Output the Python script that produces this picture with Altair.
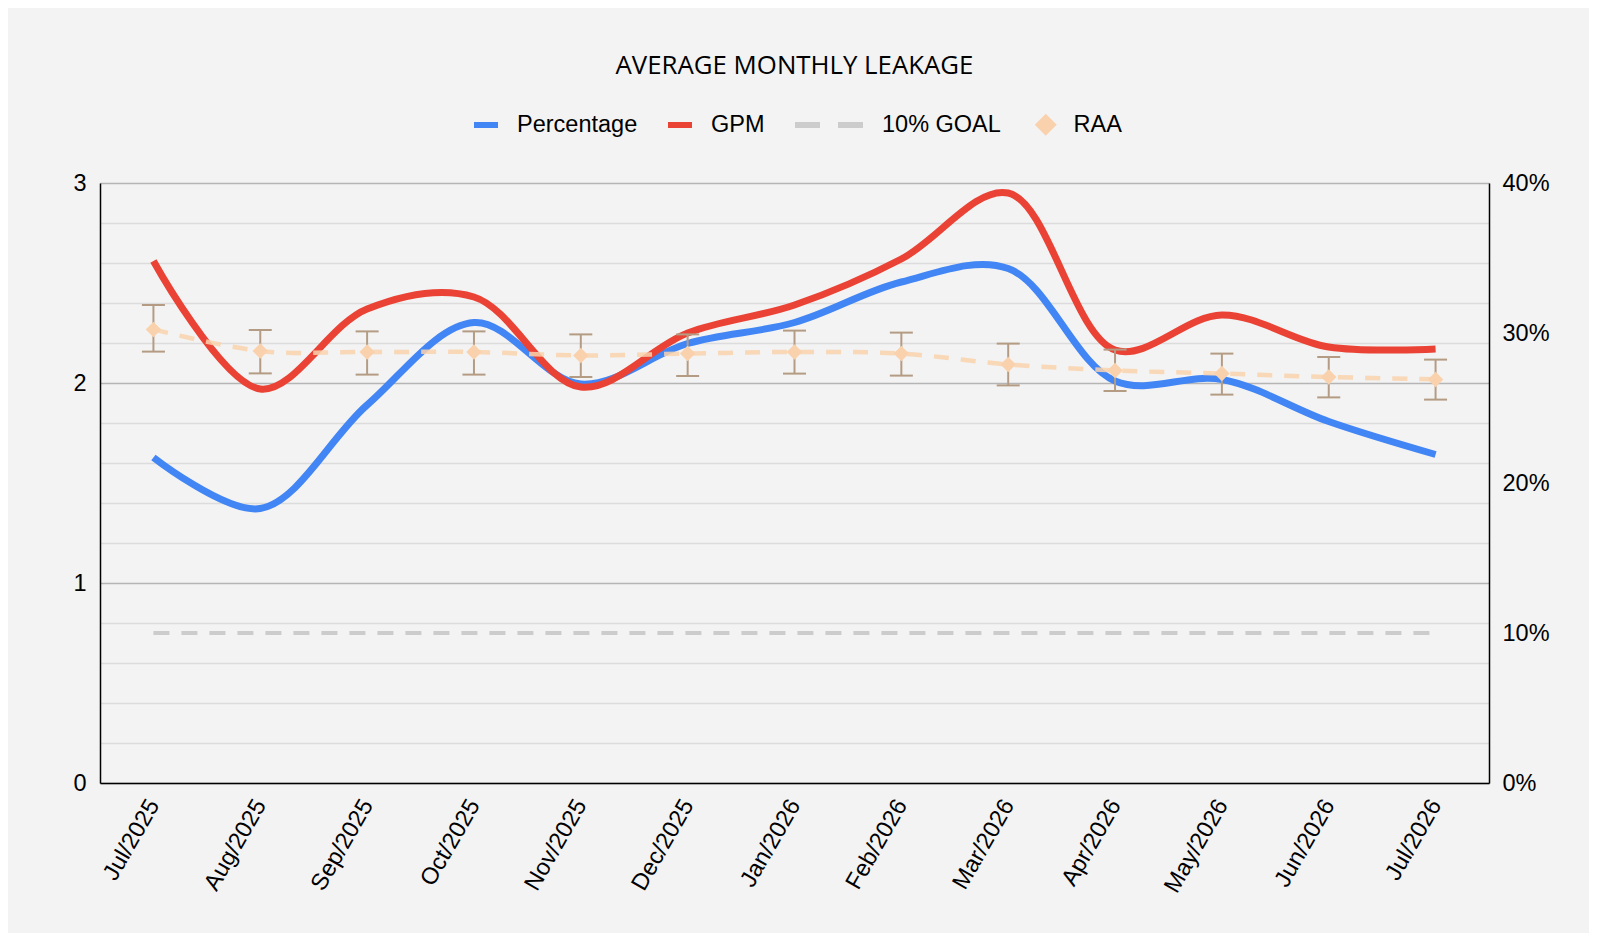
import altair as alt
import pandas as pd

months = ["Jul/2025", "Aug/2025", "Sep/2025", "Oct/2025", "Nov/2025", "Dec/2025",
          "Jan/2026", "Feb/2026", "Mar/2026", "Apr/2026", "May/2026", "Jun/2026", "Jul/2026"]
percentage = [0.217, 0.183, 0.252, 0.307, 0.266, 0.293, 0.307, 0.334, 0.343, 0.268, 0.269, 0.241, 0.219]
gpm = [2.61, 1.97, 2.37, 2.43, 1.98, 2.25, 2.39, 2.62, 2.95, 2.165, 2.34, 2.18, 2.17]
goal = [0.10, 0.10, 0.10, 0.10, 0.10, 0.10, 0.10, 0.10, 0.10, 0.10, 0.10, 0.10, 0.10]
raa = [2.268, 2.16, 2.155, 2.155, 2.138, 2.147, 2.155, 2.147, 2.093, 2.063, 2.047, 2.03, 2.018]
raa_low = [2.157, 2.048, 2.042, 2.042, 2.03, 2.035, 2.047, 2.037, 1.988, 1.96, 1.942, 1.928, 1.917]
raa_high = [2.39, 2.265, 2.258, 2.258, 2.243, 2.243, 2.262, 2.252, 2.197, 2.167, 2.147, 2.13, 2.117]
left_ticks = [0, 0.2, 0.4, 0.6, 0.8, 1, 1.2, 1.4, 1.6, 1.8, 2, 2.2, 2.4, 2.6, 2.8, 3]
right_ticks = [0, 0.1, 0.2, 0.3, 0.4]

BLUE = "#4285f4"
RED = "#ea4335"
GREY = "#cccccc"
PEACH = "#f9d2ad"
TAN = "#b49c84"
FONT = "Liberation Sans"

df_pct = pd.DataFrame({"month": months, "value": percentage, "series": "Percentage"})
df_gpm = pd.DataFrame({"month": months, "value": gpm, "series": "GPM"})
df_goal = pd.DataFrame({"month": months, "value": goal, "series": "10% GOAL"})
df_raa = pd.DataFrame({"month": months, "value": raa, "low": raa_low, "high": raa_high, "series": "RAA"})

x_enc = alt.X("month:O", sort=months, title=None,
              scale=alt.Scale(type="point", padding=0.5),
              axis=alt.Axis(labelAngle=300, labelAlign="right", labelBaseline="middle",
                            labelPadding=18, ticks=False, grid=False,
                            domainColor="#000000", domainWidth=1.5))

left_scale = alt.Scale(domain=[0, 3], nice=False, zero=True)
right_scale = alt.Scale(domain=[0, 0.4], nice=False, zero=True)

left_axis = alt.Axis(values=left_ticks,
                     labelExpr="datum.value % 1 === 0 ? format(datum.value, 'd') : ''",
                     grid=True, ticks=False, domainColor="#000000", domainWidth=1.5,
                     gridColor={"condition": {"test": "datum.value % 1 === 0", "value": "#b5b5b5"},
                                "value": "#dcdcdc"},
                     gridWidth=1.3, labelPadding=14, title=None)
right_axis = alt.Axis(orient="right", values=right_ticks, format=".0%", grid=False, ticks=False,
                      domainColor="#000000", domainWidth=1.5, labelPadding=13, title=None)

def line_legend(x, y, size, dash=None):
    kw = dict(orient="none", legendX=x, legendY=y, direction="horizontal", title=None,
              symbolType="stroke", symbolSize=size, symbolStrokeWidth=6, labelOffset=16,
              padding=0, labelFont=FONT, labelFontSize=23.5, labelColor="#000000")
    if dash is not None:
        kw["symbolDash"] = dash
    return alt.Legend(**kw)

blue = alt.Chart(df_pct).mark_line(interpolate="catmull-rom", strokeWidth=7, strokeCap="butt").encode(
    x=x_enc,
    y=alt.Y("value:Q", scale=right_scale, axis=right_axis),
    color=alt.Color("series:N", scale=alt.Scale(domain=["Percentage"], range=[BLUE]),
                    legend=line_legend(371, -73, 576)),
)

red = alt.Chart(df_gpm).mark_line(interpolate="catmull-rom", strokeWidth=7, strokeCap="butt").encode(
    x=x_enc,
    y=alt.Y("value:Q", scale=left_scale, axis=left_axis),
    color=alt.Color("series:N", scale=alt.Scale(domain=["GPM"], range=[RED]),
                    legend=line_legend(565, -73, 576)),
)

goal_line = alt.Chart(df_goal).mark_line(strokeWidth=4, strokeDash=[16, 12]).encode(
    x=x_enc,
    y=alt.Y("value:Q", scale=right_scale, axis=None),
    color=alt.Color("series:N", scale=alt.Scale(domain=["10% GOAL"], range=[GREY]),
                    legend=line_legend(692, -95, 4624, [25, 18])),
)

raa_line = alt.Chart(df_raa).mark_line(interpolate="catmull-rom", strokeWidth=4.5,
                                       strokeDash=[15, 12], color=PEACH, opacity=0.85).encode(
    x=x_enc,
    y=alt.Y("value:Q", scale=left_scale, axis=None),
)

err_rule = alt.Chart(df_raa).mark_rule(color=TAN, strokeWidth=2).encode(
    x=x_enc,
    y=alt.Y("low:Q", scale=left_scale, axis=None),
    y2="high:Q",
)
err_low = alt.Chart(df_raa).mark_tick(color=TAN, thickness=2, size=23, opacity=1).encode(
    x=x_enc,
    y=alt.Y("low:Q", scale=left_scale, axis=None),
)
err_high = alt.Chart(df_raa).mark_tick(color=TAN, thickness=2, size=23, opacity=1).encode(
    x=x_enc,
    y=alt.Y("high:Q", scale=left_scale, axis=None),
)

raa_pts = alt.Chart(df_raa).mark_point(shape="diamond", filled=True, size=240, opacity=1,
                                       strokeWidth=0).encode(
    x=x_enc,
    y=alt.Y("value:Q", scale=left_scale, axis=None),
    color=alt.Color("series:N", scale=alt.Scale(domain=["RAA"], range=[PEACH]),
                    legend=alt.Legend(orient="none", legendX=934, legendY=-70, direction="horizontal",
                                      title=None, symbolType="diamond", symbolSize=484,
                                      symbolStrokeWidth=0, symbolOpacity=1, labelOffset=16, padding=0,
                                      labelFont=FONT, labelFontSize=23.5, labelColor="#000000")),
)

chart = alt.layer(blue, red, goal_line, raa_line, err_rule, err_low, err_high, raa_pts).resolve_scale(
    y="independent", color="independent"
).properties(
    width=1389, height=600,
    title=alt.TitleParams("AVERAGE MONTHLY LEAKAGE", font="Open Sans", fontSize=25.8,
                          fontWeight="normal", color="#000000", anchor="middle", offset=8),
    autosize="none",
    padding={"left": 92, "top": 175, "right": 100, "bottom": 150},
).configure(
    background="#f3f3f3",
).configure_view(
    stroke=None,
).configure_axis(
    labelFont=FONT, labelFontSize=23.5, labelColor="#000000",
)

chart.save("out.html", embed_options={"renderer": "svg", "actions": False})
